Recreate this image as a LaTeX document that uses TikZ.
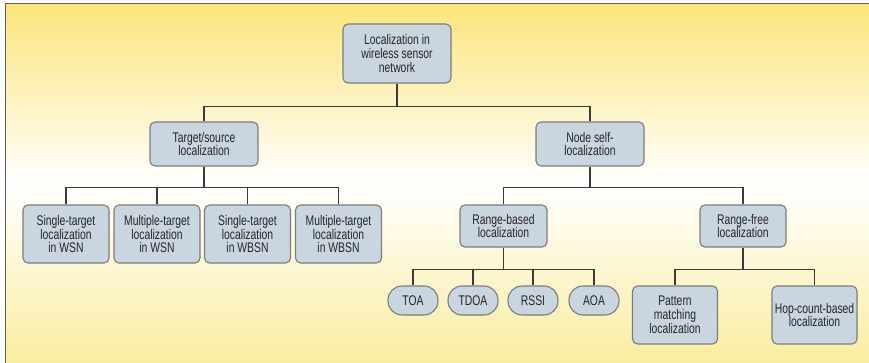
\documentclass[tikz,border=0pt]{standalone}
\usepackage{fontspec}
\setmainfont{Liberation Sans}[FakeStretch=0.74]
\begin{document}
\begin{tikzpicture}[x=1pt,y=-1pt,
  box/.style={draw=boxline, fill=boxfill, line width=1.1pt, rounded corners=5pt,
    inner sep=0pt, align=center, text=black!85,
    font=\fontsize{14}{13.8}\selectfont},
  capsule/.style={box, rounded corners=14pt},
  link/.style={draw=linkcol, line width=1.5pt}]
\definecolor{boxfill}{HTML}{C9D5DF}
\definecolor{boxline}{HTML}{7C7C7C}
\definecolor{linkcol}{HTML}{3A3A3A}
\definecolor{yeltop}{HTML}{FBE57A}
\definecolor{yelbot}{HTML}{FAEDA0}
\definecolor{framecol}{HTML}{5E5E5E}
\useasboundingbox (0,0) rectangle (869,363);
% page background and gradient panel
\fill[white] (0,0) rectangle (869,363);
\shade[top color=yeltop, bottom color=white] (5.5,3.5) rectangle (869,185);
\shade[top color=white, bottom color=yelbot] (5.5,185) rectangle (869,363);
\draw[framecol, line width=1.5pt] (5.5,363) -- (5.5,3.5) -- (869,3.5);

% nodes
\node[box, minimum width=108pt, minimum height=59pt] (root) at (397,53.5)
  {Localization in\\wireless sensor\\network};
\node[box, minimum width=108pt, minimum height=44pt] (ts) at (204,144)
  {Target/source\\localization};
\node[box, minimum width=108pt, minimum height=44pt] (ns) at (590,144)
  {Node self-\\localization};

\node[box, minimum width=86pt, minimum height=58pt] (s1) at (66,234)
  {Single-target\\localization\\in WSN};
\node[box, minimum width=86pt, minimum height=58pt] (s2) at (157,234)
  {Multiple-target\\localization\\in WSN};
\node[box, minimum width=86pt, minimum height=58pt] (s3) at (247.5,234)
  {Single-target\\localization\\in WBSN};
\node[box, minimum width=86pt, minimum height=58pt] (s4) at (338.5,234)
  {Multiple-target\\localization\\in WBSN};

\node[box, minimum width=87pt, minimum height=42pt] (rb) at (503.5,226)
  {Range-based\\localization};
\node[box, minimum width=86pt, minimum height=42pt] (rf) at (743,226)
  {Range-free\\localization};

\node[capsule, minimum width=50pt, minimum height=29pt] (toa) at (413,300.5) {TOA};
\node[capsule, minimum width=50pt, minimum height=29pt] (tdoa) at (473,300.5) {TDOA};
\node[capsule, minimum width=50pt, minimum height=29pt] (rssi) at (533,300.5) {RSSI};
\node[capsule, minimum width=50pt, minimum height=29pt] (aoa) at (594,300.5) {AOA};

\node[box, minimum width=85pt, minimum height=58pt] (pm) at (675,315)
  {Pattern\\matching\\localization};
\node[box, minimum width=85pt, minimum height=58pt] (hop) at (814.5,315)
  {Hop-count-based\\localization};

% connectors
\foreach \c in {ts,ns} \draw[link] (root.south) -- ++(0,23) -| (\c.north);
\foreach \c in {s1,s2,s3,s4} \draw[link] (ts.south) -- ++(0,21) -| (\c.north);
\foreach \c in {rb,rf} \draw[link] (ns.south) -- ++(0,21) -| (\c.north);
\foreach \c in {toa,tdoa,rssi,aoa} \draw[link] (rb.south) -- ++(0,22) -| (\c.north);
\foreach \c in {pm,hop} \draw[link] (rf.south) -- ++(0,22) -| (\c.north);
\end{tikzpicture}
\end{document}
